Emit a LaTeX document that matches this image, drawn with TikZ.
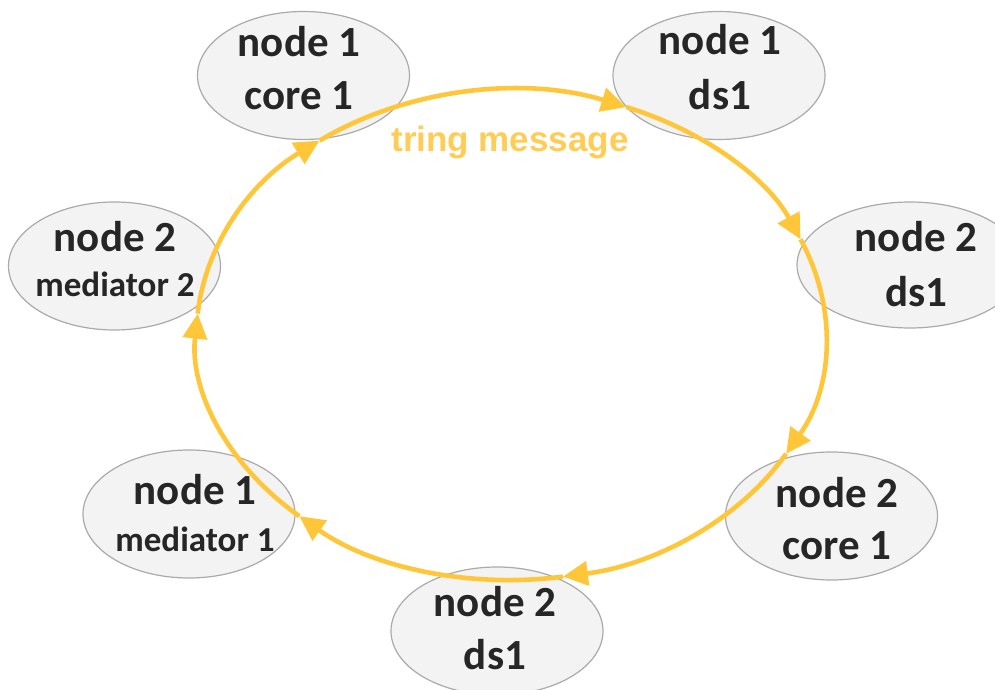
\documentclass[tikz,border=0pt]{standalone}
\usepackage{fontspec}
\setmainfont{Carlito}
\newfontfamily\arialbold{Liberation Sans Bold}
\usetikzlibrary{arrows.meta,shapes.geometric,calc}
\definecolor{ringgold}{RGB}{255,198,58}
\definecolor{msggold}{RGB}{255,205,85}
\definecolor{nodefill}{RGB}{243,243,243}
\definecolor{nodeedge}{RGB}{170,170,170}
\definecolor{txtdark}{RGB}{38,38,38}
\begin{document}
\begin{tikzpicture}[x=1pt,y=1pt,
  ellnode/.style={ellipse, draw=nodeedge, fill=nodefill, line width=1.2pt,
    inner sep=0pt, minimum width=212pt, minimum height=128pt},
  bigtxt/.style={anchor=base, inner sep=0pt, text=txtdark,
    font=\fontsize{43}{50}\selectfont\bfseries},
  smalltxt/.style={anchor=base, inner sep=0pt, text=txtdark,
    font=\fontsize{35}{42}\selectfont\bfseries},
  msgtxt/.style={anchor=base, inner sep=0pt, text=msggold,
    font=\fontsize{35}{42}\selectfont\arialbold},
  ringseg/.style={draw=ringgold, line width=4.6pt,
    -{Triangle[length=25pt,width=24pt]}},
  ringarc/.style={x radius=314.5pt, y radius=245pt}]
\clip (0,0) rectangle (995,690);
% nodes
\node[ellnode] (n1c1) at (303.5,614.5) {};
\node[ellnode] (n1d1) at (719,614.5) {};
\node[ellnode, minimum width=226pt, minimum height=126pt] (n2d1r) at (910,425) {};
\node[ellnode] (n2m2) at (114.5,424) {};
\node[ellnode] (n1m1) at (189,176) {};
\node[ellnode] (n2c1) at (831.5,174) {};
\node[ellnode] (n2d1b) at (497,59) {};
% texts
\node[bigtxt] (t1a) at (299,633) {node 1};
\node[bigtxt] (t1b) at (299,580) {core 1};
\node[bigtxt] (t2a) at (720,635) {node 1};
\node[bigtxt] (t2b) at (720,580) {ds1};
\node[bigtxt] (t3a) at (916,438) {node 2};
\node[bigtxt] (t3b) at (916,383) {ds1};
\node[bigtxt] (t4a) at (115,438) {node 2};
\node[smalltxt] (t4b) at (115,393) {mediator 2};
\node[bigtxt] (t5a) at (195,185) {node 1};
\node[smalltxt] (t5b) at (195,138) {mediator 1};
\node[bigtxt] (t6a) at (837,182) {node 2};
\node[bigtxt] (t6b) at (837,130) {core 1};
\node[bigtxt] (t7a) at (495,73) {node 2};
\node[bigtxt] (t7b) at (495,20) {ds1};
\node[msgtxt] (msg) at (510,538) {tring message};
% ring
\coordinate (rc) at (511,355);
\coordinate (r7) at ($(rc)+(175:314.5pt and 245pt)$);
\coordinate (r1) at ($(rc)+(127.5:314.5pt and 245pt)$);
\coordinate (r2) at ($(rc)+(68.5:314.5pt and 245pt)$);
\coordinate (r3) at ($(rc)+(23:314.5pt and 245pt)$);
\coordinate (r4) at ($(rc)+(-29:314.5pt and 245pt)$);
\coordinate (r5) at ($(rc)+(-80.5:314.5pt and 245pt)$);
\coordinate (r6) at ($(rc)+(-132.3:314.5pt and 245pt)$);
\draw[ringseg] (r7) arc[ringarc, start angle=175, end angle=127.5];
\draw[ringseg] (r1) arc[ringarc, start angle=127.5, end angle=68.5];
\draw[ringseg] (r2) arc[ringarc, start angle=68.5, end angle=23];
\draw[ringseg] (r3) arc[ringarc, start angle=23, end angle=-29];
\draw[ringseg] (r4) arc[ringarc, start angle=-29, end angle=-80.5];
\draw[ringseg] (r5) arc[ringarc, start angle=-80.5, end angle=-132.3];
\draw[ringseg] (r6) arc[ringarc, start angle=-132.3, end angle=-185];
\end{tikzpicture}
\end{document}
